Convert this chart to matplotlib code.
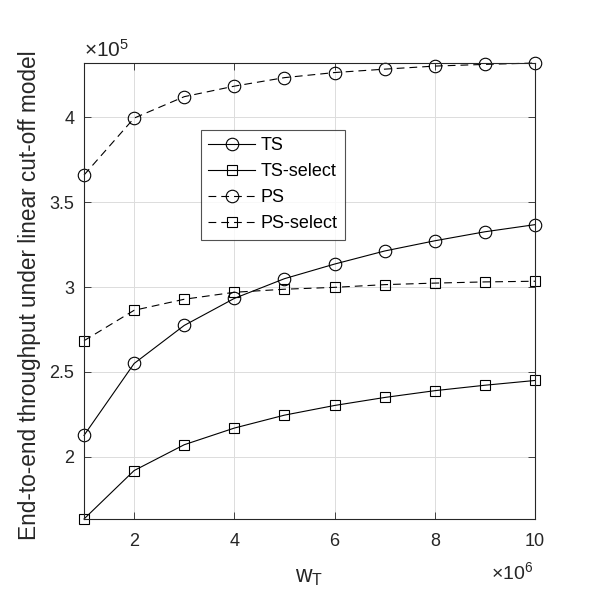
import numpy as np
import matplotlib
matplotlib.use("Agg")
import matplotlib.pyplot as plt

plt.rcParams['font.family'] = ['Liberation Sans', 'DejaVu Sans']
plt.rcParams['mathtext.fontset'] = 'custom'
plt.rcParams['mathtext.rm'] = 'Liberation Sans'
plt.rcParams['mathtext.it'] = 'Liberation Sans'

# w_T in units of 1e6, throughput in units of 1e5
w_t = [1, 2, 3, 4, 5, 6, 7, 8, 9, 10]
ts = [2.127, 2.550, 2.774, 2.933, 3.049, 3.135, 3.212, 3.272, 3.325, 3.367]
ts_select = [1.635, 1.920, 2.072, 2.170, 2.246, 2.303, 2.350, 2.390, 2.422, 2.450]
ps = [3.659, 3.994, 4.120, 4.182, 4.232, 4.262, 4.282, 4.300, 4.310, 4.318]
ps_select = [2.684, 2.863, 2.928, 2.969, 2.987, 2.998, 3.014, 3.023, 3.030, 3.034]

fig = plt.figure(figsize=(5.9, 6.02), dpi=100)
ax = fig.add_axes([0.1424, 0.1379, 0.7644, 0.7574])

dash = (0, (7, 4.5))
style = dict(color='black', lw=0.8, mfc='none', mew=0.8, clip_on=False)
ax.plot(w_t, ts, '-', marker='o', ms=9, label='TS', **style)
ax.plot(w_t, ts_select, '-', marker='s', ms=7, label='TS-select', **style)
ax.plot(w_t, ps, linestyle=dash, marker='o', ms=9, label='PS', **style)
ax.plot(w_t, ps_select, linestyle=dash, marker='s', ms=7, label='PS-select', **style)

ax.set_xlim(1, 10)
ax.set_ylim(1.635, 4.318)
ax.set_xticks([2, 4, 6, 8, 10])
ax.set_yticks([2, 2.5, 3, 3.5, 4])
ax.set_xticklabels(['2', '4', '6', '8', '10'])
ax.set_yticklabels(['2', '2.5', '3', '3.5', '4'])
ax.tick_params(direction='in', top=True, right=True, labelsize=13, length=5, width=0.6,
               colors='#262626', labelcolor='#262626')
ax.tick_params(axis='x', pad=10)
ax.tick_params(axis='y', pad=7)
ax.grid(True, color='#dcdcdc', lw=0.7)
ax.set_axisbelow(True)
for s in ax.spines.values():
    s.set_linewidth(0.8)
    s.set_color('#262626')

ax.set_xlabel(r'w$_\mathrm{T}$', fontsize=16.5, color='#262626', labelpad=11)
ax.set_ylabel('End-to-end throughput under linear cut-off model', fontsize=16.3, color='#262626',
              labelpad=6, y=0.49)

ax.text(0.0, 1.005, r'$\times10^5$', transform=ax.transAxes, fontsize=15, color='#262626', ha='left', va='bottom')
ax.text(0.997, -0.093, r'$\times10^6$', transform=ax.transAxes, fontsize=14, color='#262626', ha='right', va='top')

leg = ax.legend(loc='upper left', bbox_to_anchor=(0.26, 0.853), fontsize=13, frameon=True, fancybox=False,
                edgecolor='#262626', handlelength=2.6, borderpad=0.4, labelspacing=0.5, handletextpad=0.3,
                borderaxespad=0)
leg.get_frame().set_linewidth(0.8)

fig.savefig('out.png', dpi=100)
